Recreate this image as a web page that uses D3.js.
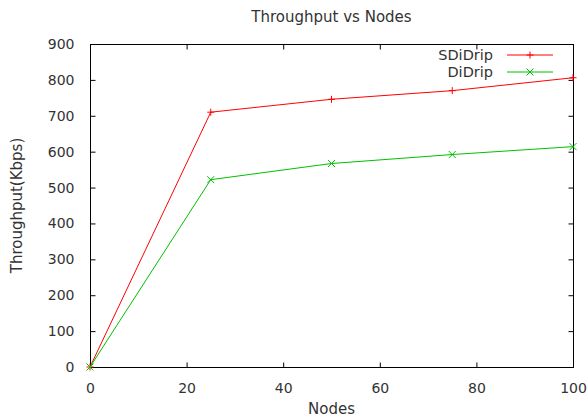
<!DOCTYPE html>
<html lang="en">
	<head>
		<meta charset="utf-8">
		<title>Throughput vs Nodes</title>
		<script type="text/javascript" src="https://cdn.jsdelivr.net/npm/d3@7"></script>
		<style type="text/css">
			body { margin: 0; background: #fff; }
			text { font-family: "DejaVu Sans", sans-serif; fill: #333; }
		</style>
	</head>
	<body>
		<script type="text/javascript">
			//Data
			var nodes = [0, 25, 50, 75, 100];
			var sdidrip = [0, 710, 746, 770, 806];
			var didrip = [0, 522, 567, 592, 614];
			var xTicks = [0, 20, 40, 60, 80, 100];
			var yTicks = [0, 100, 200, 300, 400, 500, 600, 700, 800, 900];

			//Width and height
			var w = 587;
			var h = 418;
			var pL = 90, pR = 573, pT = 44, pB = 367;

			var x = d3.scaleLinear().domain([0, 100]).range([pL, pR]);
			var y = d3.scaleLinear().domain([0, 900]).range([pB, pT]);

			var svg = d3.select("body")
						.append("svg")
						.attr("width", w)
						.attr("height", h);

			//Frame
			svg.append("rect")
			   .attr("x", pL + 0.5).attr("y", pT + 0.5)
			   .attr("width", pR - pL).attr("height", pB - pT)
			   .style("fill", "none").style("stroke", "#000").style("stroke-width", 1);

			//Axes (inward ticks, mirrored)
			var tl = 5;
			var axisStyle = function(g) {
				g.select(".domain").remove();
				g.attr("font-family", null).attr("font-size", null);
				g.selectAll(".tick line").style("stroke", "#000");
				g.selectAll(".tick text").style("font-size", "14px").style("fill", "#333");
			};
			svg.append("g").attr("transform", "translate(0," + (pB + 0.5) + ")")
			   .call(d3.axisBottom(x).tickValues(xTicks).tickSize(-tl).tickPadding(16))
			   .call(axisStyle);
			svg.append("g").attr("transform", "translate(0," + (pT + 0.5) + ")")
			   .call(d3.axisTop(x).tickValues(xTicks).tickSize(-tl).tickFormat(""))
			   .call(axisStyle);
			svg.append("g").attr("transform", "translate(" + (pL + 0.5) + ",0)")
			   .call(d3.axisLeft(y).tickValues(yTicks).tickSize(-tl).tickPadding(16))
			   .call(axisStyle);
			svg.append("g").attr("transform", "translate(" + (pR + 0.5) + ",0)")
			   .call(d3.axisRight(y).tickValues(yTicks).tickSize(-tl).tickFormat(""))
			   .call(axisStyle);

			//Series
			var series = [
				{name: "SDiDrip", values: sdidrip, color: "#ff0000", mark: "plus"},
				{name: "DiDrip", values: didrip, color: "#00c000", mark: "cross"}
			];

			var line = d3.line()
						 .x(function(d, i) { return x(nodes[i]); })
						 .y(function(d) { return y(d); });

			var marker = function(g, type, cx, cy, color) {
				var s = 3.5;
				if (type == "plus") {
					g.append("path").attr("d", "M" + (cx - s) + "," + cy + "H" + (cx + s) + "M" + cx + "," + (cy - s) + "V" + (cy + s));
				} else {
					g.append("path").attr("d", "M" + (cx - s) + "," + (cy - s) + "L" + (cx + s) + "," + (cy + s) + "M" + (cx - s) + "," + (cy + s) + "L" + (cx + s) + "," + (cy - s));
				}
				g.selectAll("path").style("stroke", color).style("fill", "none").style("stroke-width", 1);
			};

			series.forEach(function(s, k) {
				svg.append("path")
				   .datum(s.values)
				   .attr("d", line)
				   .style("fill", "none")
				   .style("stroke", s.color)
				   .style("stroke-width", 1);

				s.values.forEach(function(v, i) {
					marker(svg.append("g"), s.mark, x(nodes[i]), y(v), s.color);
				});

				//Legend
				var ly = 55 + k * 17;
				svg.append("text")
				   .attr("x", 493).attr("y", ly + 5)
				   .attr("text-anchor", "end")
				   .style("font-size", "14.5px")
				   .text(s.name);
				svg.append("line")
				   .attr("x1", 507).attr("x2", 553).attr("y1", ly).attr("y2", ly)
				   .style("stroke", s.color).style("stroke-width", 1);
				marker(svg.append("g"), s.mark, 530, ly, s.color);
			});

			//Titles
			svg.append("text")
			   .attr("x", (pL + pR) / 2).attr("y", 22)
			   .attr("text-anchor", "middle")
			   .style("font-size", "15px")
			   .text("Throughput vs Nodes");
			svg.append("text")
			   .attr("x", (pL + pR) / 2).attr("y", 414)
			   .attr("text-anchor", "middle")
			   .style("font-size", "15px")
			   .text("Nodes");
			svg.append("text")
			   .attr("transform", "translate(22," + ((pT + pB) / 2) + ") rotate(-90)")
			   .attr("text-anchor", "middle")
			   .style("font-size", "15px")
			   .text("Throughput(Kbps)");
		</script>
	</body>
</html>
